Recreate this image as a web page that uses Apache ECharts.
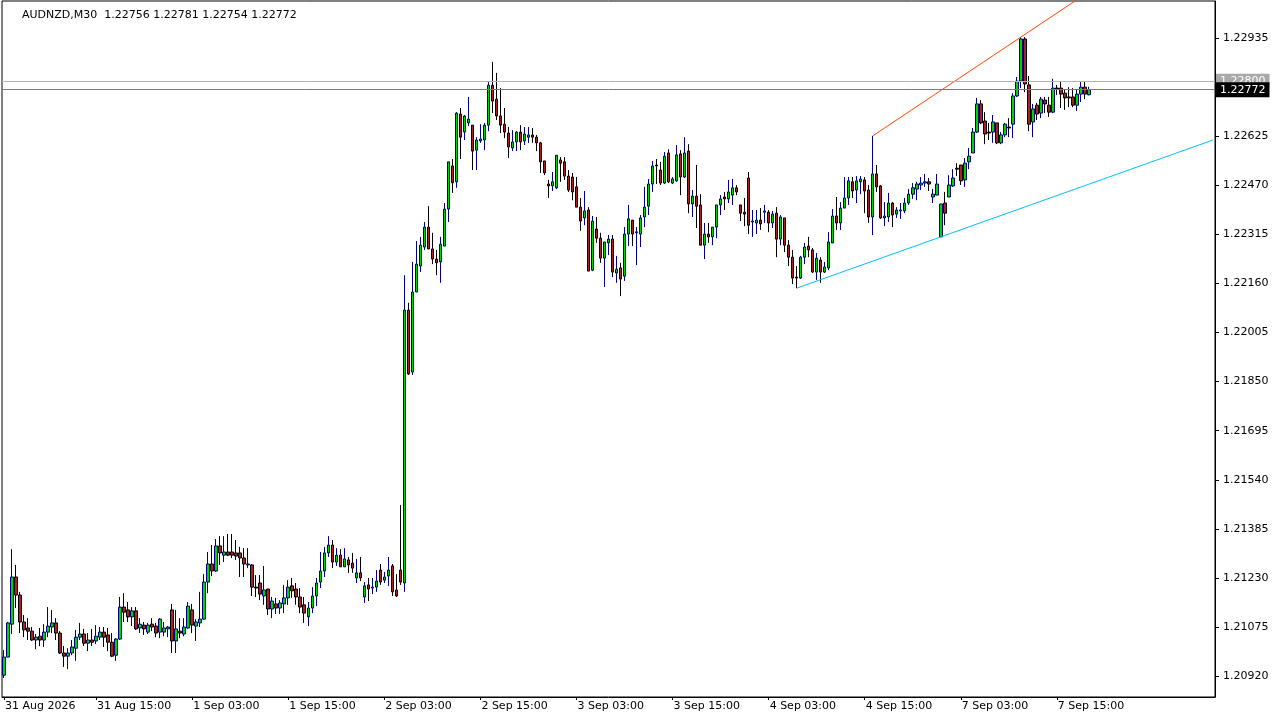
<!DOCTYPE html>
<html>
<head>
<meta charset="utf-8">
<script src="https://cdn.jsdelivr.net/npm/echarts/dist/echarts.min.js"></script>
<style>
  html, body { margin: 0; padding: 0; background: #ffffff; }
  #chart { width: 1280px; height: 720px; }
</style>
</head>
<body>
<div id="chart"></div>
<script>
// ---------------- DATA ----------------
const symbol = 'AUDNZD';
const timeframe = 'M30';
const firstLabel = '31 Aug 2026';
const xTickLabels = ['31 Aug 15:00', '1 Sep 03:00', '1 Sep 15:00', '2 Sep 03:00', '2 Sep 15:00',
  '3 Sep 03:00', '3 Sep 15:00', '4 Sep 03:00', '4 Sep 15:00', '7 Sep 03:00', '7 Sep 15:00'];
const yTickValues = [1.20920, 1.21075, 1.21230, 1.21385, 1.21540, 1.21695, 1.21850,
  1.22005, 1.22160, 1.22315, 1.22470, 1.22625, 1.22780, 1.22935];
const askPrice = 1.22800;

const opens = [
1.20923,1.20980,1.21084,1.21233,1.21176,1.21091,1.21072,1.21062,1.21034,1.21046,
1.21034,1.21059,1.21075,1.21088,1.21056,1.20993,1.20983,1.20993,1.21008,1.21043,
1.21053,1.21024,1.21034,1.21031,1.21043,1.21059,1.21050,1.21027,1.20986,1.21037,
1.21138,1.21129,1.21107,1.21126,1.21072,1.21081,1.21059,1.21084,1.21078,1.21059,
1.21059,1.21069,1.21129,1.21031,1.21062,1.21053,1.21072,1.21129,1.21078,1.21088,
1.21100,1.21217,1.21274,1.21252,1.21331,1.21302,1.21312,1.21312,1.21309,1.21309,
1.21293,1.21271,1.21271,1.21201,1.21214,1.21173,1.21195,1.21132,1.21148,1.21135,
1.21148,1.21167,1.21205,1.21195,1.21170,1.21145,1.21107,1.21135,1.21173,1.21217,
1.21252,1.21309,1.21334,1.21280,1.21302,1.21265,1.21287,1.21277,1.21230,1.21246,
1.21170,1.21208,1.21198,1.21201,1.21255,1.21223,1.21236,1.21268,1.21192,1.21255,
1.21214,1.22076,1.21880,1.22133,1.22215,1.22275,1.22338,1.22269,1.22237,1.22228,
1.22278,1.22395,1.22531,1.22481,1.22695,1.22638,1.22667,1.22660,1.22581,1.22610,
1.22613,1.22660,1.22786,1.22742,1.22689,1.22663,1.22635,1.22588,1.22607,1.22638,
1.22610,1.22622,1.22629,1.22622,1.22604,1.22547,1.22474,1.22468,1.22462,1.22550,
1.22544,1.22499,1.22496,1.22465,1.22401,1.22367,1.22392,1.22202,1.22332,1.22303,
1.22240,1.22288,1.22300,1.22193,1.22209,1.22183,1.22316,1.22360,1.22320,1.22316,
1.22370,1.22404,1.22474,1.22534,1.22518,1.22477,1.22572,1.22477,1.22484,1.22569,
1.22496,1.22578,1.22411,1.22436,1.22408,1.22281,1.22316,1.22307,1.22338,1.22408,
1.22433,1.22427,1.22439,1.22462,1.22408,1.22385,1.22493,1.22354,1.22351,1.22360,
1.22385,1.22385,1.22351,1.22382,1.22300,1.22367,1.22281,1.22243,1.22180,1.22177,
1.22243,1.22278,1.22266,1.22196,1.22234,1.22196,1.22209,1.22288,1.22373,1.22351,
1.22398,1.22430,1.22481,1.22455,1.22481,1.22487,1.22455,1.22370,1.22506,1.22468,
1.22367,1.22370,1.22414,1.22379,1.22389,1.22389,1.22414,1.22442,1.22458,1.22471,
1.22477,1.22481,1.22433,1.22439,1.22307,1.22414,1.22433,1.22468,1.22524,1.22534,
1.22487,1.22544,1.22572,1.22638,1.22727,1.22673,1.22638,1.22638,1.22667,1.22604,
1.22629,1.22654,1.22663,1.22752,1.22799,1.22932,1.22787,1.22670,1.22723,1.22698,
1.22739,1.22723,1.22701,1.22777,1.22777,1.22761,1.22749,1.22749,1.22723,1.22758,
1.22780,1.22756];

const highs = [
1.21002,1.21091,1.21321,1.21271,1.21186,1.21113,1.21103,1.21075,1.21053,1.21072,
1.21084,1.21138,1.21129,1.21103,1.21062,1.21015,1.21008,1.21034,1.21066,1.21088,
1.21069,1.21056,1.21069,1.21081,1.21075,1.21075,1.21072,1.21056,1.21040,1.21170,
1.21182,1.21154,1.21138,1.21138,1.21103,1.21091,1.21088,1.21103,1.21088,1.21103,
1.21091,1.21078,1.21148,1.21129,1.21103,1.21103,1.21154,1.21148,1.21100,1.21186,
1.21242,1.21312,1.21334,1.21353,1.21362,1.21362,1.21369,1.21369,1.21350,1.21328,
1.21324,1.21324,1.21274,1.21239,1.21239,1.21268,1.21195,1.21170,1.21167,1.21160,
1.21208,1.21223,1.21230,1.21214,1.21198,1.21170,1.21154,1.21201,1.21230,1.21312,
1.21328,1.21362,1.21350,1.21324,1.21321,1.21324,1.21296,1.21309,1.21290,1.21296,
1.21217,1.21230,1.21230,1.21255,1.21274,1.21249,1.21296,1.21274,1.21242,1.21460,
1.22186,1.22099,1.22228,1.22294,1.22307,1.22354,1.22404,1.22320,1.22266,1.22307,
1.22414,1.22544,1.22553,1.22701,1.22714,1.22692,1.22749,1.22660,1.22622,1.22663,
1.22667,1.22796,1.22860,1.22825,1.22777,1.22714,1.22654,1.22644,1.22641,1.22660,
1.22654,1.22654,1.22651,1.22629,1.22607,1.22547,1.22487,1.22512,1.22565,1.22559,
1.22559,1.22518,1.22509,1.22496,1.22430,1.22452,1.22401,1.22373,1.22370,1.22320,
1.22291,1.22313,1.22313,1.22247,1.22225,1.22338,1.22408,1.22360,1.22338,1.22376,
1.22465,1.22490,1.22547,1.22553,1.22544,1.22575,1.22584,1.22496,1.22597,1.22581,
1.22622,1.22600,1.22455,1.22534,1.22442,1.22351,1.22351,1.22338,1.22408,1.22439,
1.22449,1.22487,1.22490,1.22471,1.22408,1.22430,1.22512,1.22392,1.22392,1.22398,
1.22408,1.22392,1.22389,1.22401,1.22376,1.22367,1.22297,1.22266,1.22215,1.22247,
1.22288,1.22307,1.22272,1.22256,1.22243,1.22228,1.22322,1.22395,1.22433,1.22417,
1.22496,1.22496,1.22496,1.22499,1.22499,1.22496,1.22471,1.22626,1.22534,1.22471,
1.22417,1.22446,1.22417,1.22401,1.22414,1.22430,1.22458,1.22477,1.22481,1.22496,
1.22506,1.22493,1.22458,1.22506,1.22411,1.22449,1.22502,1.22521,1.22540,1.22534,
1.22556,1.22588,1.22651,1.22746,1.22739,1.22701,1.22667,1.22692,1.22667,1.22638,
1.22667,1.22682,1.22761,1.22812,1.22938,1.22938,1.22815,1.22727,1.22730,1.22749,
1.22749,1.22749,1.22806,1.22787,1.22799,1.22771,1.22780,1.22777,1.22774,1.22796,
1.22796,1.22781];

const lows = [
1.20914,1.20980,1.21053,1.21135,1.21056,1.21043,1.21034,1.21031,1.21005,1.21015,
1.21012,1.21043,1.21056,1.21034,1.20990,1.20949,1.20942,1.20986,1.20968,1.21034,
1.21015,1.20999,1.21015,1.21021,1.21034,1.21012,1.20999,1.20980,1.20968,1.21034,
1.21091,1.21091,1.21078,1.21066,1.21056,1.21050,1.21053,1.21062,1.21043,1.21040,
1.21046,1.21043,1.20993,1.20993,1.21040,1.21046,1.21069,1.21056,1.21031,1.21075,
1.21097,1.21182,1.21236,1.21249,1.21271,1.21280,1.21299,1.21293,1.21287,1.21233,
1.21233,1.21261,1.21173,1.21170,1.21160,1.21145,1.21113,1.21103,1.21116,1.21116,
1.21119,1.21145,1.21167,1.21145,1.21119,1.21088,1.21078,1.21119,1.21141,1.21198,
1.21233,1.21296,1.21261,1.21268,1.21265,1.21265,1.21246,1.21246,1.21214,1.21220,
1.21151,1.21157,1.21179,1.21186,1.21208,1.21214,1.21205,1.21173,1.21170,1.21208,
1.21186,1.21871,1.21871,1.22133,1.22196,1.22266,1.22269,1.22221,1.22186,1.22162,
1.22278,1.22354,1.22446,1.22462,1.22553,1.22613,1.22657,1.22518,1.22518,1.22604,
1.22581,1.22641,1.22698,1.22676,1.22635,1.22619,1.22556,1.22578,1.22578,1.22581,
1.22597,1.22604,1.22604,1.22578,1.22509,1.22502,1.22430,1.22452,1.22458,1.22481,
1.22487,1.22449,1.22423,1.22401,1.22326,1.22344,1.22199,1.22199,1.22288,1.22225,
1.22149,1.22250,1.22180,1.22162,1.22120,1.22168,1.22278,1.22278,1.22218,1.22275,
1.22338,1.22376,1.22449,1.22474,1.22471,1.22474,1.22477,1.22474,1.22481,1.22439,
1.22493,1.22382,1.22370,1.22335,1.22281,1.22237,1.22288,1.22281,1.22303,1.22376,
1.22392,1.22414,1.22408,1.22439,1.22357,1.22341,1.22316,1.22307,1.22316,1.22329,
1.22351,1.22322,1.22335,1.22243,1.22281,1.22259,1.22215,1.22158,1.22145,1.22174,
1.22221,1.22243,1.22193,1.22171,1.22162,1.22193,1.22202,1.22288,1.22329,1.22329,
1.22398,1.22408,1.22430,1.22414,1.22442,1.22382,1.22351,1.22313,1.22449,1.22364,
1.22341,1.22354,1.22338,1.22367,1.22364,1.22382,1.22408,1.22427,1.22423,1.22455,
1.22465,1.22452,1.22414,1.22439,1.22307,1.22344,1.22433,1.22465,1.22499,1.22471,
1.22465,1.22521,1.22572,1.22635,1.22663,1.22600,1.22613,1.22604,1.22600,1.22600,
1.22622,1.22622,1.22619,1.22749,1.22777,1.22764,1.22641,1.22622,1.22676,1.22682,
1.22698,1.22686,1.22698,1.22755,1.22714,1.22708,1.22717,1.22717,1.22705,1.22733,
1.22742,1.22754];

const closes = [
1.20980,1.21088,1.21233,1.21176,1.21091,1.21066,1.21062,1.21034,1.21043,1.21034,
1.21059,1.21078,1.21088,1.21056,1.20993,1.20983,1.20993,1.21012,1.21043,1.21053,
1.21024,1.21034,1.21027,1.21046,1.21059,1.21043,1.21027,1.20983,1.21037,1.21138,
1.21122,1.21107,1.21126,1.21069,1.21084,1.21069,1.21081,1.21075,1.21056,1.21100,
1.21072,1.21075,1.21031,1.21069,1.21056,1.21075,1.21141,1.21081,1.21091,1.21100,
1.21217,1.21274,1.21252,1.21331,1.21309,1.21312,1.21302,1.21302,1.21299,1.21293,
1.21274,1.21274,1.21201,1.21198,1.21179,1.21192,1.21132,1.21157,1.21135,1.21151,
1.21167,1.21201,1.21189,1.21170,1.21138,1.21119,1.21135,1.21173,1.21214,1.21252,
1.21309,1.21334,1.21280,1.21302,1.21265,1.21290,1.21271,1.21261,1.21246,1.21230,
1.21205,1.21195,1.21201,1.21220,1.21217,1.21233,1.21255,1.21186,1.21173,1.21217,
1.22076,1.21874,1.22133,1.22221,1.22281,1.22338,1.22269,1.22237,1.22225,1.22284,
1.22395,1.22544,1.22478,1.22698,1.22622,1.22689,1.22679,1.22578,1.22613,1.22616,
1.22660,1.22786,1.22736,1.22689,1.22660,1.22638,1.22591,1.22607,1.22638,1.22607,
1.22632,1.22629,1.22622,1.22604,1.22544,1.22509,1.22468,1.22481,1.22565,1.22540,
1.22499,1.22455,1.22449,1.22401,1.22357,1.22389,1.22199,1.22357,1.22303,1.22240,
1.22291,1.22300,1.22196,1.22205,1.22174,1.22316,1.22364,1.22316,1.22323,1.22367,
1.22401,1.22474,1.22531,1.22531,1.22477,1.22562,1.22481,1.22490,1.22566,1.22496,
1.22572,1.22411,1.22436,1.22404,1.22281,1.22316,1.22307,1.22338,1.22408,1.22427,
1.22427,1.22449,1.22462,1.22449,1.22382,1.22379,1.22344,1.22357,1.22360,1.22348,
1.22389,1.22351,1.22379,1.22300,1.22370,1.22281,1.22243,1.22177,1.22177,1.22243,
1.22275,1.22266,1.22196,1.22240,1.22196,1.22212,1.22291,1.22373,1.22351,1.22398,
1.22430,1.22484,1.22452,1.22484,1.22490,1.22452,1.22370,1.22506,1.22465,1.22367,
1.22373,1.22414,1.22376,1.22392,1.22392,1.22414,1.22442,1.22462,1.22474,1.22477,
1.22481,1.22474,1.22442,1.22474,1.22411,1.22382,1.22471,1.22493,1.22521,1.22484,
1.22540,1.22562,1.22638,1.22727,1.22667,1.22632,1.22635,1.22670,1.22604,1.22629,
1.22663,1.22651,1.22752,1.22799,1.22932,1.22790,1.22663,1.22711,1.22695,1.22742,
1.22727,1.22701,1.22777,1.22774,1.22758,1.22746,1.22746,1.22723,1.22758,1.22780,
1.22758,1.22772];

// trendline anchors: [bar time, price]
const redTrend = [['4 Sep 16:00', 1.22626], ['7 Sep 10:30', 1.22938]];
const blueTrend = [['4 Sep 06:30', 1.22145], ['7 Sep 00:30', 1.22307]];

// ---------------- BUILD ----------------
const FONT = 'DejaVu Sans';
const months = ['Jan','Feb','Mar','Apr','May','Jun','Jul','Aug','Sep','Oct','Nov','Dec'];
const totalSlots = 303; // includes empty space to the right (chart shift)
const categories = [];
let t = Date.UTC(2026, 7, 31, 3, 30);
while (categories.length < totalSlots) {
  const d = new Date(t);
  const wd = d.getUTCDay();
  if (wd !== 0 && wd !== 6) {
    const hh = String(d.getUTCHours()).padStart(2, '0');
    const mm = String(d.getUTCMinutes()).padStart(2, '0');
    categories.push(d.getUTCDate() + ' ' + months[d.getUTCMonth()] + ' ' + hh + ':' + mm);
  }
  t += 30 * 60000;
}
const candleData = opens.map((o, i) => [o, closes[i], lows[i], highs[i]]);
const n = opens.length;
const tickSet = new Set(xTickLabels);

function rayData(tr) {
  const i1 = categories.indexOf(tr[0][0]), i2 = categories.indexOf(tr[1][0]);
  const p1 = tr[0][1], p2 = tr[1][1];
  const last = categories.length - 1;
  const pe = p1 + (p2 - p1) * (last - i1) / (i2 - i1);
  return [[i1, p1], [i2, p2], [last, pe]];
}

const yMin = 1.20854, yMax = 1.23052;
const lastBar = n - 1;
const titleText = symbol + ',' + timeframe + '  ' + opens[lastBar].toFixed(5) + ' ' +
  highs[lastBar].toFixed(5) + ' ' + lows[lastBar].toFixed(5) + ' ' + closes[lastBar].toFixed(5);

const chart = echarts.init(document.getElementById('chart'), null, { renderer: 'canvas' });
chart.setOption({
  animation: false,
  backgroundColor: '#ffffff',
  title: {
    text: titleText, left: 17, top: 5,
    textStyle: { fontFamily: FONT, fontSize: 11, fontWeight: 'normal', color: '#000' }
  },
  grid: { left: 2, right: 65, top: 1, bottom: 23, show: true, borderColor: '#000', borderWidth: 1, backgroundColor: '#fff' },
  xAxis: {
    type: 'category', data: categories, boundaryGap: true,
    axisLine: { show: true, lineStyle: { color: '#000' } },
    axisTick: { show: true, length: 3, alignWithLabel: true, lineStyle: { color: '#000' },
      interval: (idx, val) => idx === 0 || tickSet.has(val) },
    axisLabel: {
      interval: (idx, val) => idx === 0 || tickSet.has(val),
      formatter: (val, idx) => idx === 0 ? firstLabel : val,
      align: 'left', margin: 4, padding: [0, 0, 0, 1],
      color: '#000', fontFamily: FONT, fontSize: 11
    },
    splitLine: { show: false }
  },
  yAxis: {
    type: 'value', position: 'right', min: yMin, max: yMax, scale: true,
    splitLine: { show: false },
    axisLine: { show: true, lineStyle: { color: '#000' } },
    axisTick: { show: true, length: 4, customValues: yTickValues, lineStyle: { color: '#000' } },
    axisLabel: { customValues: yTickValues, formatter: v => v.toFixed(5), margin: 8,
      color: '#000', fontFamily: FONT, fontSize: 11 }
  },
  series: [
    {
      type: 'candlestick', data: candleData, barWidth: 3,
      itemStyle: {
        color: '#00d400', color0: '#a82222',
        borderColor: '#000080', borderColor0: '#000000', borderWidth: 1
      },
      markLine: {
        symbol: 'none', silent: true, animation: false, precision: 5,
        data: [
          { yAxis: askPrice, lineStyle: { color: '#b4b4b4', type: 'solid', width: 1 },
            label: { show: true, position: 'end', distance: 1, formatter: p => Number(p.value).toFixed(5),
              color: '#fff', backgroundColor: '#a9a9a9', padding: [2, 4, 1, 4], fontFamily: FONT, fontSize: 11 } },
          { yAxis: closes[lastBar], lineStyle: { color: '#7a7a7a', type: 'solid', width: 1 },
            label: { show: true, position: 'end', distance: 1, formatter: p => Number(p.value).toFixed(5),
              color: '#fff', backgroundColor: '#000', padding: [2, 4, 2, 4], fontFamily: FONT, fontSize: 11 } }
        ]
      }
    },
    {
      type: 'line', data: rayData(redTrend), showSymbol: false, symbol: 'none', clip: true, silent: true,
      lineStyle: { color: '#ff4500', width: 1 }, z: 3
    },
    {
      type: 'line', data: rayData(blueTrend), showSymbol: false, symbol: 'none', clip: true, silent: true,
      lineStyle: { color: '#00bfff', width: 1 }, z: 3
    }
  ]
});
</script>
</body>
</html>
